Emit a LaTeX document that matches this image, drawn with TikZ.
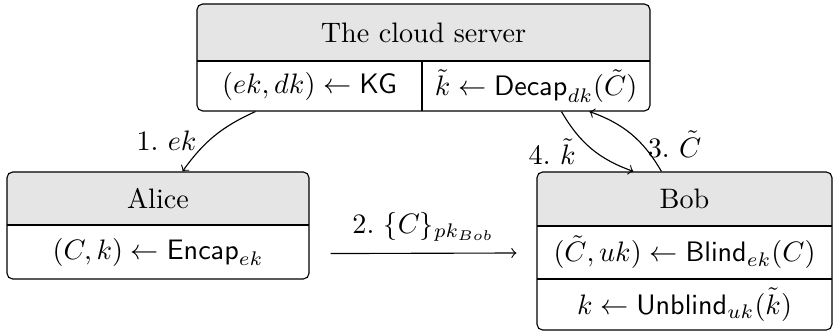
\documentclass[tikz,border=0pt]{standalone}
\usepackage{amsmath}
\usetikzlibrary{calc}
\begin{document}
\begin{tikzpicture}[x=0.3551pt,y=-0.3551pt,
  frame/.style={draw,rounded corners=2pt,inner sep=0pt},
  headfill/.style={fill=gray!20},
  txt/.style={inner sep=0pt},
  conn/.style={->,bend right=20}]
\useasboundingbox (0,0) rectangle (833,331);
% header fills
\fill[headfill] (197,61) [rounded corners=2pt] -- (197,4) -- (650,4) [sharp corners] -- (650,61) -- cycle;
\fill[headfill] (7,225) [rounded corners=2pt] -- (7,172) -- (309,172) [sharp corners] -- (309,225) -- cycle;
\fill[headfill] (537,226) [rounded corners=2pt] -- (537,172) -- (832,172) [sharp corners] -- (832,226) -- cycle;
% frames
\node[frame,minimum width=160.86pt,minimum height=37.99pt] (cloud) at (423.5,57.5) {};
\node[frame,minimum width=107.24pt,minimum height=37.99pt] (alice) at (158,225.5) {};
\node[frame,minimum width=104.75pt,minimum height=56.11pt] (bob) at (684.5,251) {};
% dividers
\draw (197,61) -- (650,61);
\draw (422,61) -- (422,111);
\draw (7,225) -- (309,225);
\draw (537,226) -- (832,226);
\draw (537,279) -- (832,279);
% texts
\node[txt] (cloudH) at (423.5,33) {The cloud server};
\node[txt] (cloudL) at (309.5,86) {$(ek,dk) \leftarrow \mathsf{KG}$};
\node[txt] (cloudR) at (536,86) {$\tilde{k} \leftarrow \mathsf{Decap}_{dk}(\tilde{C})$};
\node[txt] (aliceH) at (158,199) {Alice};
\node[txt] (aliceR) at (158,252) {$(C,k) \leftarrow \mathsf{Encap}_{ek}$};
\node[txt] (bobH) at (684.5,199) {Bob};
\node[txt] (bobR1) at (684.5,252.5) {$(\tilde{C},uk) \leftarrow \mathsf{Blind}_{ek}(C)$};
\node[txt] (bobR2) at (684.5,304.5) {$k \leftarrow \mathsf{Unblind}_{uk}(\tilde{k})$};
% connectors
\draw[conn,bend right=15] ($(cloud.south west)+(59,0)$) to node[left,xshift=-2.8pt,yshift=-1.8pt] {1.~$ek$} ($(alice.north west)+(176,0)$);
\draw[->] ($(alice.south east)+(21,-26)$) -- node[midway,anchor=base,yshift=7.1pt] {2.~$\{C\}_{pk_{Bob}}$} ($(bob.west)+(-20,2)$);
\draw[conn] ($(cloud.south west)+(365,0)$) to node[left,xshift=-2.1pt,yshift=-1pt] {4.~$\tilde{k}$} ($(bob.north west)+(97,0)$);
\draw[conn] ($(bob.north west)+(125,0)$) to node[right,xshift=2.3pt,yshift=-3.6pt] {3.~$\tilde{C}$} ($(cloud.south west)+(393,0)$);
\end{tikzpicture}
\end{document}
